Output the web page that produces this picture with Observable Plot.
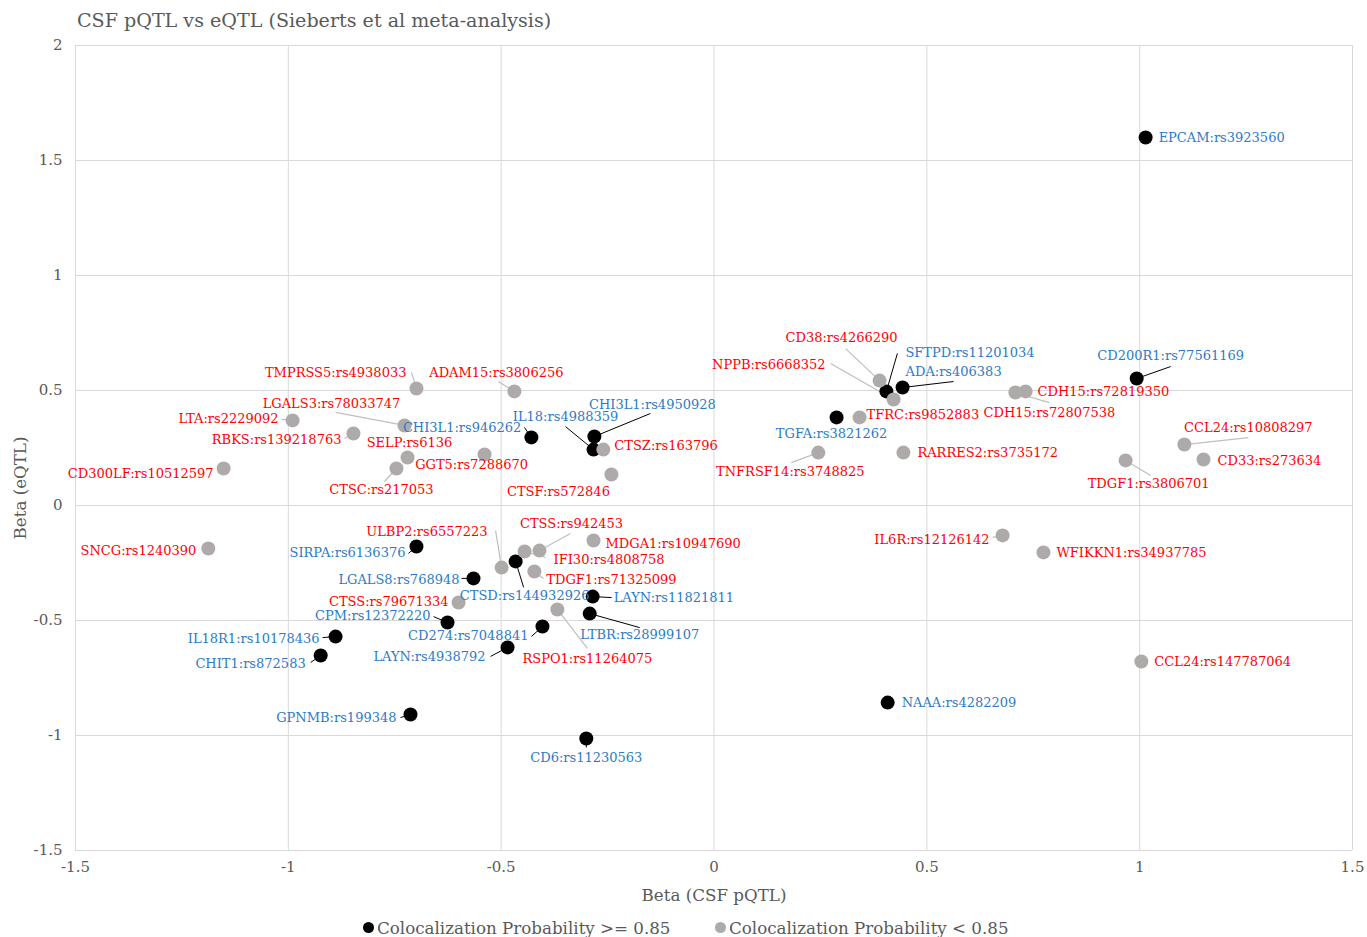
<!DOCTYPE html>
<html><head><meta charset="utf-8">
<script src="https://cdn.jsdelivr.net/npm/d3@7"></script>
<script src="https://cdn.jsdelivr.net/npm/@observablehq/plot@0.6"></script>
<style>
body{margin:0;background:#fff;font-family:"DejaVu Serif",serif;color:#595959;}
#title{height:30px;position:relative;}
#title span{position:absolute;left:77px;top:10px;font-size:19.1px;line-height:22px;white-space:nowrap;}
#legend{position:relative;height:27px;}
#legend .dot{position:absolute;width:11px;height:11px;border-radius:50%;top:12px;}
#legend .txt{position:absolute;top:7px;font-size:16.7px;line-height:22px;white-space:nowrap;}
</style></head><body>
<div id="title"><span>CSF pQTL vs eQTL (Sieberts et al meta-analysis)</span></div>
<div id="chart"></div>
<div id="legend">
  <div class="dot" style="left:363px;background:#000"></div><div class="txt" style="left:377px">Colocalization Probability &gt;= 0.85</div>
  <div class="dot" style="left:715px;background:#aeaaaa"></div><div class="txt" style="left:729px">Colocalization Probability &lt; 0.85</div>
</div>
<script>
// ---------- data ----------
const xTicks = [-1.5, -1, -0.5, 0, 0.5, 1, 1.5];
const yTicks = [-1.5, -1, -0.5, 0, 0.5, 1, 1.5, 2];

// Colocalization Probability >= 0.85
const highNames = ["EPCAM:rs3923560","CD200R1:rs77561169","SFTPD:rs11201034","ADA:rs406383","TGFA:rs3821262","CHI3L1:rs4950928","IL18:rs4988359","CHI3L1:rs946262","SIRPA:rs6136376","LGALS8:rs768948","CTSD:rs144932926","LAYN:rs11821811","LTBR:rs28999107","CPM:rs12372220","CD274:rs7048841","LAYN:rs4938792","IL18R1:rs10178436","CHIT1:rs872583","GPNMB:rs199348","CD6:rs11230563","NAAA:rs4282209"];
const highX = [1.014,0.993,0.405,0.443,0.288,-0.281,-0.283,-0.429,-0.699,-0.565,-0.466,-0.285,-0.292,-0.626,-0.403,-0.485,-0.889,-0.924,-0.713,-0.300,0.408];
const highY = [1.600,0.552,0.496,0.513,0.383,0.300,0.243,0.296,-0.178,-0.317,-0.243,-0.396,-0.470,-0.509,-0.526,-0.617,-0.570,-0.652,-0.909,-1.013,-0.857];

// Colocalization Probability < 0.85
const lowNames = ["CD38:rs4266290","NPPB:rs6668352","TFRC:rs9852883","CDH15:rs72819350","CDH15:rs72807538","CCL24:rs10808297","CD33:rs273634","TDGF1:rs3806701","RARRES2:rs3735172","TNFRSF14:rs3748825","IL6R:rs12126142","WFIKKN1:rs34937785","CCL24:rs147787064","SNCG:rs1240390","CD300LF:rs10512597","LTA:rs2229092","RBKS:rs139218763","LGALS3:rs78033747","TMPRSS5:rs4938033","ADAM15:rs3806256","SELP:rs6136","CTSC:rs217053","GGT5:rs7288670","CTSZ:rs163796","CTSF:rs572846","ULBP2:rs6557223","CTSS:rs942453","IFI30:rs4808758","TDGF1:rs71325099","MDGA1:rs10947690","CTSS:rs79671334","RSPO1:rs11264075"];
const lowX = [0.389,0.422,0.342,0.732,0.708,1.105,1.150,0.967,0.445,0.245,0.678,0.774,1.004,-1.188,-1.152,-0.990,-0.847,-0.727,-0.699,-0.469,-0.720,-0.746,-0.539,-0.260,-0.241,-0.499,-0.410,-0.445,-0.422,-0.283,-0.600,-0.368];
const lowY = [0.543,0.461,0.383,0.496,0.491,0.265,0.200,0.196,0.230,0.230,-0.130,-0.204,-0.678,-0.187,0.161,0.370,0.313,0.348,0.509,0.496,0.209,0.161,0.222,0.243,0.135,-0.270,-0.196,-0.200,-0.287,-0.152,-0.422,-0.452];

// ---------- label layout (anchor, pixel offset from point) ----------
const highLabelAt = [["s",13,0],["m",34,-23],["s",19,-39],["s",3,-16],["m",-5,16],["m",58,-32],["m",-28,-33],["e",-10,-10],["e",-11,6],["e",-14,1],["m",9,34],["s",21,1],["m",50,21],["e",-17,-7],["e",-14,9],["e",-22,9],["e",-16,2],["e",-15,8],["e",-14,3],["m",0,19],["s",14,0]];
const highLeader = [null,[34,-12],[11,-38],[51,-6],null,[56,-23],[-28,-23],[-7,-10],[-8,7],[-12,0],[8,26],[19,1],[50,14],[-14,-6],[-11,10],[-17,9],[-13,1],[-10,7],[-10,3],[0,9],null];
const lowLabelAt = [["m",-38,-43],["e",-68,-35],["s",7,-3],["s",12,0],["m",34,20],["m",64,-17],["s",14,1],["m",23,23],["s",14,0],["m",-28,19],["e",-13,4],["s",13,0],["s",13,0],["e",-12,2],["e",-10,5],["e",-14,-2],["e",-12,6],["m",-73,-22],["e",-10,-16],["m",-18,-19],["m",2,-15],["m",-15,21],["m",-13,10],["s",11,-4],["m",-53,17],["e",-14,-36],["m",32,-27],["s",29,8],["s",12,8],["s",12,3],["e",-10,-1],["m",30,49]];
const lowLeader = [[-34,-32],[-63,-36],null,null,[34,10],[64,-7],null,[25,15],null,[-27,10],[-10,2],null,null,null,[-6,4],[-11,-1],[-9,5],[-69,-13],[-5,-16],[-16,-10],null,[-12,13],null,null,null,[-6,-37],[31,-17],[21,6],[9,7],null,null,[30,39]];

// ---------- geometry ----------
const W = 1367, H = 880, mL = 75, mR = 15, mT = 15, mB = 60;
const xDomain = [-1.5, 1.5], yDomain = [-1.5, 2];
const kx = (W - mL - mR) / (xDomain[1] - xDomain[0]);
const ky = (H - mT - mB) / (yDomain[1] - yDomain[0]);

function build(names, xs, ys, labelAt, leaders, group) {
  return names.map((n, i) => ({
    name: n, x: xs[i], y: ys[i], group,
    anchor: labelAt[i][0],
    lx: xs[i] + labelAt[i][1] / kx,
    ly: ys[i] - labelAt[i][2] / ky,
    ex: leaders[i] ? xs[i] + leaders[i][0] / kx : null,
    ey: leaders[i] ? ys[i] - leaders[i][1] / ky : null
  }));
}
const high = build(highNames, highX, highY, highLabelAt, highLeader, "high");
const low = build(lowNames, lowX, lowY, lowLabelAt, lowLeader, "low");
const all = high.concat(low);

const fmt = d => d < 0 ? "-" + Math.abs(d) : String(d);
const BLUE = "#2b7bc6", RED = "#ff0000";
const anchorMap = {s: "start", e: "end", m: "middle"};

const textMarks = [];
for (const a of ["s", "e", "m"]) {
  textMarks.push(Plot.text(all.filter(d => d.anchor === a), {
    x: "lx", y: "ly", text: "name", textAnchor: anchorMap[a],
    fill: d => d.group === "high" ? BLUE : RED,
    fontSize: 13, fontFamily: "DejaVu Serif"
  }));
}

const chart = Plot.plot({
  width: W, height: H,
  marginLeft: mL, marginRight: mR, marginTop: mT, marginBottom: mB,
  x: {domain: xDomain},
  y: {domain: yDomain},
  style: {fontFamily: "DejaVu Serif", fontSize: "15px", color: "#595959", background: "#fff", overflow: "visible"},
  marks: [
    Plot.gridX(xTicks, {stroke: "#d9d9d9", strokeOpacity: 1}),
    Plot.gridY(yTicks, {stroke: "#d9d9d9", strokeOpacity: 1}),
    Plot.axisX(xTicks, {tickSize: 0, tickPadding: 11, tickFormat: fmt, label: null, fontSize: 15}),
    Plot.axisY(yTicks, {tickSize: 0, tickPadding: 13, tickFormat: fmt, label: null, fontSize: 15}),
    Plot.text(["Beta (CSF pQTL)"], {frameAnchor: "bottom", lineAnchor: "middle", textAnchor: "middle", dy: 45, fontSize: 16.7, fill: "#595959"}),
    Plot.text(["Beta (eQTL)"], {frameAnchor: "left", lineAnchor: "middle", textAnchor: "middle", dx: -55, dy: 40, rotate: -90, fontSize: 16.7, fill: "#595959"}),
    Plot.link(high.filter(d => d.ex != null), {x1: "x", y1: "y", x2: "ex", y2: "ey", stroke: "#000", strokeWidth: 1}),
    Plot.link(low.filter(d => d.ex != null), {x1: "x", y1: "y", x2: "ex", y2: "ey", stroke: "#bfbfbf", strokeWidth: 1.2}),
    Plot.dot(high, {x: "x", y: "y", r: 7, fill: "#000", stroke: "none"}),
    Plot.dot(low, {x: "x", y: "y", r: 7, fill: "#aeaaaa", stroke: "none"}),
    ...textMarks
  ]
});
document.getElementById("chart").appendChild(chart);
</script>
</body></html>
